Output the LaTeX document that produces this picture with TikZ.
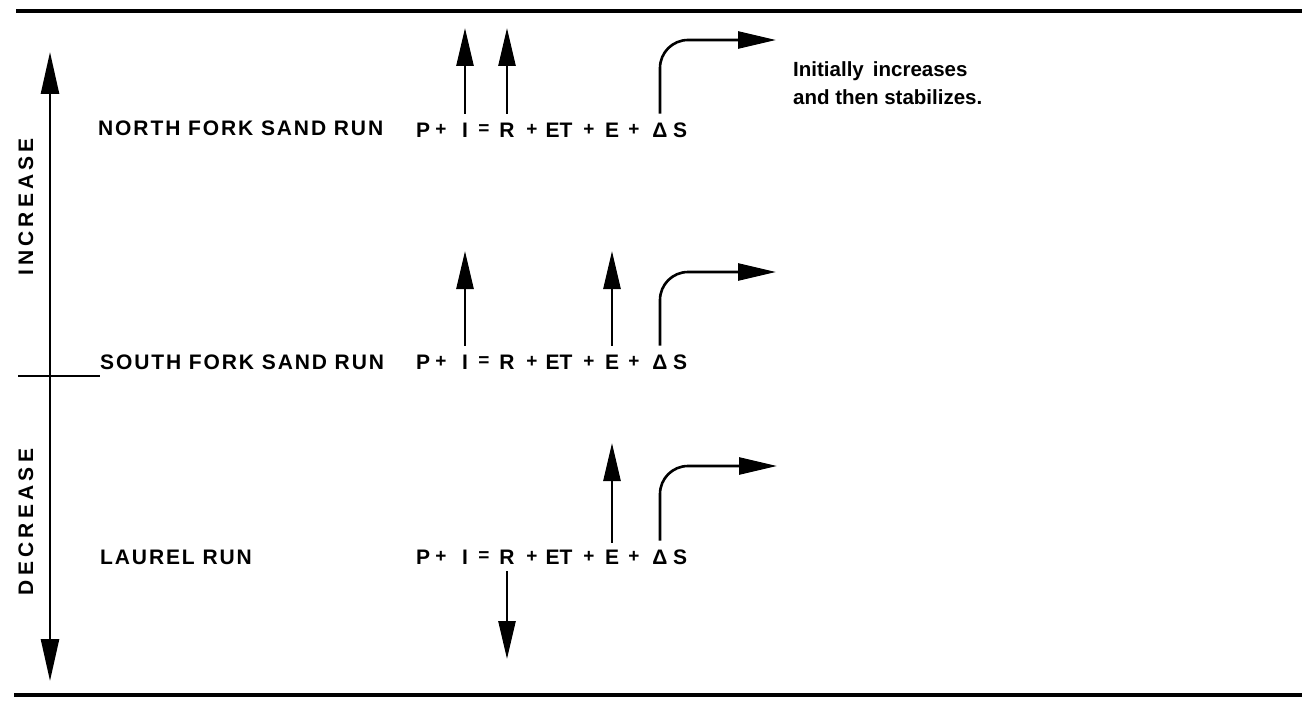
\documentclass[tikz,border=0pt]{standalone}
\usepackage{fontspec}
\setmainfont{Liberation Sans}
\newfontfamily\labfont[LetterSpace=9]{Liberation Sans}
\newfontfamily\sidefont[LetterSpace=20]{Liberation Sans}
\usetikzlibrary{arrows.meta}
\begin{document}
\begin{tikzpicture}[x=1pt,y=-1pt,
  rule/.style={line width=3.5pt},
  arr/.style={line width=2.6pt,-{Triangle[length=38pt,width=17pt]}},
  lab/.style={inner sep=0pt,font=\fontsize{21}{25}\selectfont\labfont\bfseries,anchor=west},
  tok/.style={inner sep=0pt,font=\fontsize{21}{25}\selectfont\bfseries},
  op/.style={inner sep=0pt,font=\fontsize{19}{22}\selectfont\bfseries},
  side/.style={inner sep=0pt,font=\fontsize{21}{25}\selectfont\sidefont\bfseries,rotate=90},
  note/.style={inner sep=0pt,font=\fontsize{20.5}{28}\selectfont\bfseries,align=left,anchor=north west}]
\useasboundingbox (0,0) rectangle (1302,701);
% frame rules
\coordinate (tl) at (16,11);
\coordinate (tr) at (1302,11);
\coordinate (bl) at (14,695);
\coordinate (br) at (1302,695);
\draw[rule] (tl) -- (tr);
\draw[rule] (bl) -- (br);
% vertical axis
\coordinate (vtop) at (50,52);
\coordinate (vbot) at (50,681);
\draw[line width=2.6pt,{Triangle[length=42pt,width=18pt]}-{Triangle[length=42pt,width=18pt]}] (vtop) -- (vbot);
\coordinate (tickL) at (18,376);
\coordinate (tickR) at (100,376);
\draw[line width=2.6pt] (tickL) -- (tickR);
\node[side] (inc) at (26,207) {INCREASE};
\node[side] (dec) at (26,522) {DECREASE};
% row labels
\node[lab] (nfsr) at (98,128) {NORTH FORK SAND RUN};
\node[lab] (sfsr) at (100,362) {SOUTH FORK SAND RUN};
\node[lab] (lr) at (100,557) {LAUREL RUN};
% equations
\foreach \pre/\yy in {a/130,b/362,c/557}{
  \foreach \n/\xx/\t in {P/423/P,I/465/I,R/507/R,ET/559/ET,E/612/E,D/660/Δ,S/680/S}{
    \node[tok] (\pre\n) at (\xx,\yy) {\t};
  }
  \foreach \n/\xx/\t in {p1/441/+,eq/484/=,p2/532/+,p3/589/+,p4/634/+}{
    \node[op] (\pre\n) at (\xx,\yy) {\t};
  }
}
% tips
\coordinate (aIt) at (465,28);
\coordinate (aDt) at (776,40);
\coordinate (bIt) at (465,251);
\coordinate (bDt) at (776,272);
\coordinate (cEt) at (614,443);
\coordinate (cDt) at (777,466);
\coordinate (cRt) at (510,659);
% north fork
\draw[arr] ([yshift=9pt]aI.north) -- (aI.north |- aIt);
\draw[arr] ([yshift=9pt]aR.north) -- (aR.north |- aIt);
\draw[arr,rounded corners=28pt] ([yshift=9pt]aD.north) |- (aDt);
\node[note] (txt) at (793,61) {Initially\, increases\\and then stabilizes.};
% south fork
\draw[arr] ([yshift=9pt]bI.north) -- (bI.north |- bIt);
\draw[arr] ([yshift=9pt]bE.north) -- (bE.north |- bIt);
\draw[arr,rounded corners=28pt] ([yshift=9pt]bD.north) |- (bDt);
% laurel
\draw[arr] ([yshift=7pt]cE.north) -- (cE.north |- cEt);
\draw[arr,rounded corners=28pt] ([yshift=9pt]cD.north) |- (cDt);
\draw[arr] ([yshift=-7pt]cR.south) -- (cR.south |- cRt);
\end{tikzpicture}
\end{document}
